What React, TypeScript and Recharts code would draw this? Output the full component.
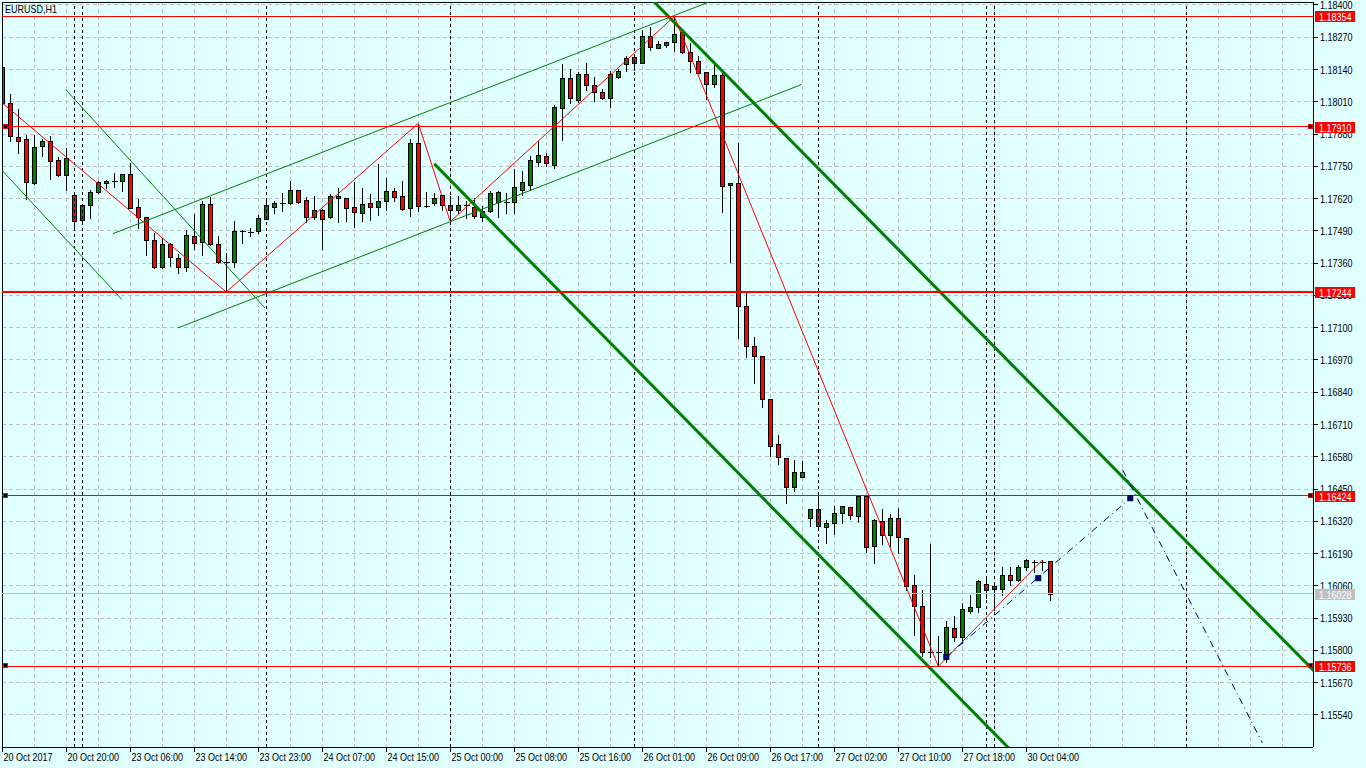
import React from "react";
import { ComposedChart, Bar, XAxis, YAxis, CartesianGrid, ReferenceLine, ReferenceDot } from "recharts";

const FONT = "'Liberation Sans', Arial, sans-serif";
const SQUEEZE = 0.82; // narrow the glyphs like the terminal font
const BG = "#E0FFFF";
const RED = "#FF0000";
const GREEN = "#008000";
const NAVY = "#000080";

// EURUSD H1 candles, 132 bars (index 0 = 20 Oct 2017)
const opens = [
  1.1815, 1.18004, 1.17867, 1.17859, 1.17684, 1.17831, 1.17851, 1.17774, 1.17714, 1.17633,
  1.17535, 1.17593, 1.17645, 1.17682, 1.1769, 1.1769, 1.17719, 1.17585, 1.17547, 1.17452,
  1.17343, 1.17436, 1.1738, 1.17346, 1.17469, 1.17444, 1.17598, 1.17436, 1.17363, 1.17363,
  1.17488, 1.17485, 1.17491, 1.17539, 1.17587, 1.17601, 1.17601, 1.17655, 1.17614, 1.17547,
  1.17573, 1.17545, 1.1763, 1.17621, 1.17585, 1.17561, 1.17601, 1.17585, 1.17609, 1.17649,
  1.17629, 1.17581, 1.17844, 1.17592, 1.17601, 1.17633, 1.17593, 1.17575, 1.17593, 1.17587,
  1.17545, 1.1757, 1.17605, 1.17605, 1.17608, 1.17655, 1.17675, 1.17768, 1.17792, 1.17755,
  1.17984, 1.18105, 1.18017, 1.18122, 1.18076, 1.18048, 1.18027, 1.18109, 1.18161, 1.18189,
  1.18167, 1.18275, 1.18228, 1.18238, 1.1825, 1.1829, 1.18212, 1.18174, 1.18129, 1.1808,
  1.18119, 1.17674, 1.17682, 1.17186, 1.17025, 1.16985, 1.16812, 1.1663, 1.16574, 1.16457,
  1.165, 1.16332, 1.16369, 1.16297, 1.16313, 1.16352, 1.16377, 1.1634, 1.16423, 1.16222,
  1.16323, 1.16264, 1.16332, 1.16252, 1.16062, 1.15979, 1.15795, 1.15794, 1.15774, 1.1589,
  1.15853, 1.1596, 1.15976, 1.16068, 1.16058, 1.16049, 1.16104, 1.16083, 1.16136, 1.16158,
  1.16158, 1.1616,
];
const highs = [
  1.18154, 1.18044, 1.17984, 1.1788, 1.1788, 1.17863, 1.17876, 1.17792, 1.17827, 1.17635,
  1.17594, 1.17658, 1.17695, 1.17699, 1.17726, 1.17722, 1.17769, 1.17621, 1.1755, 1.17487,
  1.17465, 1.17446, 1.17401, 1.17496, 1.17561, 1.17614, 1.1763, 1.17473, 1.17406, 1.17534,
  1.17496, 1.17504, 1.17558, 1.17614, 1.17614, 1.17645, 1.17695, 1.17657, 1.17632, 1.17635,
  1.17581, 1.17641, 1.17668, 1.17628, 1.17691, 1.17666, 1.17641, 1.17762, 1.17706, 1.17668,
  1.17695, 1.17863, 1.17923, 1.17652, 1.17647, 1.17635, 1.17635, 1.17635, 1.17614, 1.17628,
  1.17594, 1.17655, 1.17655, 1.17648, 1.17742, 1.17735, 1.17796, 1.17856, 1.17808, 1.18,
  1.18165, 1.18145, 1.18134, 1.18169, 1.18114, 1.18064, 1.18138, 1.18145, 1.18199, 1.18199,
  1.18302, 1.18315, 1.18259, 1.18252, 1.18354, 1.18307, 1.18252, 1.18199, 1.1813, 1.18165,
  1.18131, 1.17686, 1.17849, 1.17245, 1.17067, 1.16988, 1.16816, 1.16671, 1.1658, 1.1657,
  1.16567, 1.16375, 1.16426, 1.16328, 1.16386, 1.16387, 1.16382, 1.16429, 1.16429, 1.16335,
  1.16373, 1.16355, 1.16379, 1.16254, 1.16108, 1.16048, 1.16234, 1.15862, 1.15923, 1.15943,
  1.15996, 1.16027, 1.16088, 1.16091, 1.16071, 1.1614, 1.1614, 1.16147, 1.16174, 1.16167,
  1.16167, 1.16162,
];
const lows = [
  1.17993, 1.17853, 1.17805, 1.17617, 1.17679, 1.17792, 1.177, 1.17712, 1.17655, 1.17504,
  1.17528, 1.17542, 1.17643, 1.17662, 1.17667, 1.17652, 1.17581, 1.175, 1.17392, 1.17342,
  1.1734, 1.1735, 1.17322, 1.1733, 1.17417, 1.17393, 1.17434, 1.17361, 1.17244, 1.17346,
  1.1744, 1.17471, 1.17483, 1.17537, 1.17563, 1.1757, 1.17599, 1.17602, 1.17527, 1.17537,
  1.17417, 1.17543, 1.17527, 1.1753, 1.17507, 1.17531, 1.17534, 1.17554, 1.17574, 1.17609,
  1.17575, 1.17551, 1.1757, 1.17587, 1.17594, 1.17574, 1.17527, 1.17561, 1.17541, 1.17541,
  1.1753, 1.17568, 1.17545, 1.17561, 1.17561, 1.17635, 1.17655, 1.17751, 1.17751, 1.17743,
  1.17856, 1.18004, 1.1801, 1.18058, 1.18013, 1.1802, 1.1799, 1.18107, 1.18135, 1.18138,
  1.18165, 1.18219, 1.18225, 1.18232, 1.18216, 1.18205, 1.18131, 1.18125, 1.1802, 1.18071,
  1.17567, 1.17366, 1.1706, 1.16983, 1.16876, 1.16782, 1.16583, 1.1655, 1.16395, 1.16442,
  1.16498, 1.16302, 1.16298, 1.16234, 1.16268, 1.16312, 1.16331, 1.16319, 1.16198, 1.16151,
  1.16229, 1.16221, 1.16191, 1.16044, 1.15863, 1.15779, 1.15772, 1.15736, 1.15755, 1.15839,
  1.15829, 1.15952, 1.15954, 1.1601, 1.15963, 1.16023, 1.16064, 1.16081, 1.16124, 1.16117,
  1.16124, 1.16003,
];
const closes = [
  1.18005, 1.17872, 1.17853, 1.17686, 1.17827, 1.17851, 1.17773, 1.17714, 1.17782, 1.17531,
  1.17593, 1.17647, 1.17686, 1.17691, 1.1769, 1.17719, 1.17583, 1.17547, 1.17452, 1.17346,
  1.17436, 1.17384, 1.17346, 1.17473, 1.1744, 1.17598, 1.17436, 1.17363, 1.17363, 1.1749,
  1.17488, 1.17485, 1.17541, 1.17593, 1.17601, 1.17601, 1.17655, 1.17608, 1.17545, 1.17573,
  1.17539, 1.1763, 1.17621, 1.17583, 1.17565, 1.17597, 1.17585, 1.17609, 1.17651, 1.17628,
  1.17577, 1.17844, 1.1759, 1.17589, 1.17621, 1.17593, 1.17574, 1.17593, 1.17593, 1.17549,
  1.17571, 1.17641, 1.17645, 1.17605, 1.17666, 1.17687, 1.17776, 1.17796, 1.17763, 1.17988,
  1.18105, 1.18024, 1.18122, 1.18076, 1.18048, 1.18027, 1.18122, 1.18134, 1.18185, 1.18167,
  1.18275, 1.18232, 1.18243, 1.1825, 1.18283, 1.18212, 1.18174, 1.18128, 1.1808, 1.18119,
  1.17672, 1.17682, 1.17186, 1.17025, 1.16985, 1.16812, 1.16625, 1.16578, 1.16457, 1.16518,
  1.16518, 1.16369, 1.163, 1.16313, 1.16352, 1.16381, 1.16344, 1.16423, 1.16218, 1.16324,
  1.16265, 1.16332, 1.16256, 1.16061, 1.1598, 1.15795, 1.15795, 1.15794, 1.15894, 1.15855,
  1.15966, 1.15974, 1.16079, 1.16045, 1.16046, 1.16103, 1.16083, 1.16136, 1.16163, 1.16158,
  1.16158, 1.16028,
];

// time labels, one every 8 bars
const timeLabels = [
  "20 Oct 2017", "20 Oct 20:00", "23 Oct 06:00", "23 Oct 14:00", "23 Oct 23:00",
  "24 Oct 07:00", "24 Oct 15:00", "25 Oct 00:00", "25 Oct 08:00", "25 Oct 16:00",
  "26 Oct 01:00", "26 Oct 09:00", "26 Oct 17:00", "27 Oct 02:00", "27 Oct 10:00",
  "27 Oct 18:00", "30 Oct 04:00",
];
const priceTicks = [
  1.184, 1.1827, 1.1814, 1.1801, 1.1788, 1.1775, 1.1762, 1.1749, 1.1736, 1.1723, 1.171, 1.1697,
  1.1684, 1.1671, 1.1658, 1.1645, 1.1632, 1.1619, 1.1606, 1.1593, 1.158, 1.1567, 1.1554,
];
const gridTicks = Array.from({ length: 41 }, (_, k) => k * 4);

// drawn objects (bar index, price)
const redLevels = [1.18354, 1.1791, 1.17244, 1.16424, 1.15736];
const markedLevels = [1.1791, 1.16424, 1.15736];
const bidPrice = 1.16028;
const dayLines = [9, 10, 33, 56, 79, 102, 123, 124, 148];
const zigzag = [
  [0, 1.18005], [28, 1.17244], [52, 1.17923], [56, 1.17527], [84, 1.18354], [117, 1.15736], [130, 1.16164],
];
const thinChannels = [
  [[-0.3, 1.17743], [14.93, 1.17214]],
  [[7.96, 1.18058], [32.84, 1.17179]],
  [[13.84, 1.17479], [90, 1.18433]],
  [[21.96, 1.17099], [99.93, 1.1808]],
];
const thickChannels = [
  [[78, 1.18526], [170, 1.1552]],
  [[54, 1.1776], [130, 1.15269]],
];
const projections = [
  [[118, 1.15774], [141, 1.16413]],
  [[140.05, 1.16527], [157.5, 1.15428]],
];
const projectionMarks = [[118, 1.15774], [129.5, 1.16091], [141, 1.16413]];

const candles = opens.map((o, i) => ({
  i,
  open: o,
  high: highs[i],
  low: lows[i],
  close: closes[i],
  range: [lows[i], highs[i]],
}));

const NarrowText = ({ x, y, fill, children }: any) => (
  <text
    transform={`translate(${x} ${y}) scale(${SQUEEZE} 1)`}
    x={0}
    y={0}
    fontSize={11}
    fontFamily={FONT}
    fill={fill}
  >
    {children}
  </text>
);

const Candle = (props: any) => {
  const { x, y, width, height, payload } = props;
  if (!payload || x == null || y == null) return null;
  const cx = Math.round(x + width / 2) + 0.5;
  const top = Math.min(y, y + height);
  const bot = Math.max(y, y + height);
  const span = payload.high - payload.low;
  const toY = (v: number) => (span > 0 ? top + ((payload.high - v) / span) * (bot - top) : top);
  const snap = (v: number) => Math.round(v) + 0.5;
  const yo = snap(toY(payload.open));
  const yc = snap(toY(payload.close));
  const bodyTop = Math.min(yo, yc);
  const bodyBot = Math.max(yo, yc);
  const up = payload.close > payload.open;
  return (
    <g shapeRendering="crispEdges">
      <line x1={cx} x2={cx} y1={snap(top)} y2={snap(bot)} stroke="#000" />
      {bodyBot - bodyTop < 1 ? (
        <line x1={cx - 2.5} x2={cx + 3} y1={yo} y2={yo} stroke="#000" />
      ) : (
        <rect x={cx - 2} y={bodyTop} width={4} height={bodyBot - bodyTop} fill={up ? GREEN : RED} stroke="#000" />
      )}
    </g>
  );
};

// price scale ticks; the level tags come last so they sit on top
const PriceTick = (props: any) => {
  const { x, y, payload } = props;
  const v = payload.value;
  const isLevel = redLevels.includes(v);
  if (isLevel || v === bidPrice) {
    const ty = Math.round(y);
    return (
      <g>
        <rect x={x + 2} y={ty - 5} width={40} height={11} fill={isLevel ? RED : "#C0C0C0"} shapeRendering="crispEdges" />
        <NarrowText x={x + 6} y={ty + 4.5} fill="#FFFFFF">
          {v.toFixed(5)}
        </NarrowText>
      </g>
    );
  }
  return (
    <g>
      <line x1={x} x2={x + 5} y1={y} y2={y} stroke="#000" shapeRendering="crispEdges" />
      <NarrowText x={x + 7} y={y + 4} fill="#000">
        {v.toFixed(5)}
      </NarrowText>
    </g>
  );
};

const TimeTick = (props: any) => {
  const { x, y, payload } = props;
  if (payload.value % 8 !== 0) return null;
  const label = timeLabels[payload.value / 8];
  if (!label) return null;
  const px = Math.round(x) + 0.5;
  return (
    <g>
      <line x1={px} x2={px} y1={y} y2={y + 5} stroke="#000" shapeRendering="crispEdges" />
      <NarrowText x={px + 1} y={y + 14} fill="#000">
        {label}
      </NarrowText>
    </g>
  );
};

// small anchor squares at both ends of a selected horizontal line
const LevelMarks = (props: any) => {
  const { viewBox } = props;
  if (!viewBox) return null;
  const right = viewBox.x + viewBox.width;
  const y = Math.round(viewBox.y);
  return (
    <g shapeRendering="crispEdges">
      <rect x={viewBox.x + 1.5} y={y - 2.5} width={4} height={4} fill="#000" stroke={RED} />
      <rect x={right - 4.5} y={y - 2.5} width={4} height={4} fill="#000" stroke={RED} />
    </g>
  );
};

const seg = (a: number[], b: number[]) => [
  { x: a[0], y: a[1] },
  { x: b[0], y: b[1] },
];

export default function App() {
  return (
    <div style={{ position: "fixed", left: 0, top: 0, width: 1366, height: 768, background: BG }}>
      <ComposedChart width={1366} height={768} data={candles} margin={{ top: 2, right: 0, bottom: 0, left: 2 }}>
        <CartesianGrid
          stroke="#C0C0C0"
          strokeDasharray="4 3"
          shapeRendering="crispEdges"
          horizontalValues={priceTicks}
          verticalValues={gridTicks}
        />
        <XAxis
          type="number"
          dataKey="i"
          domain={[-0.0375, 163.8375]}
          allowDataOverflow
          ticks={gridTicks}
          interval={0}
          tick={<TimeTick />}
          tickLine={false}
          tickSize={0}
          tickMargin={0}
          height={21}
          axisLine={{ stroke: "#000", shapeRendering: "crispEdges" }}
        />
        <YAxis
          orientation="right"
          domain={[1.15411, 1.18412]}
          allowDataOverflow
          ticks={[...priceTicks, bidPrice, ...redLevels]}
          interval={0}
          tick={<PriceTick />}
          tickLine={false}
          tickSize={0}
          tickMargin={0}
          width={53}
          axisLine={{ stroke: "#000", shapeRendering: "crispEdges" }}
        />
        {/* frame */}
        <ReferenceLine x={-0.0375} stroke="#000" ifOverflow="visible" shapeRendering="crispEdges" />
        <ReferenceLine y={1.18412} stroke="#000" ifOverflow="visible" shapeRendering="crispEdges" />

        {dayLines.map((d) => (
          <ReferenceLine key={"d" + d} x={d} stroke="#000" strokeDasharray="3 3" shapeRendering="crispEdges" />
        ))}

        <ReferenceLine y={bidPrice} stroke="#C0C0C0" shapeRendering="crispEdges" />

        <Bar dataKey="range" shape={<Candle />} isAnimationActive={false} />

        {thinChannels.map((s, k) => (
          <ReferenceLine key={"tc" + k} segment={seg(s[0], s[1])} stroke={GREEN} strokeWidth={1} ifOverflow="hidden" />
        ))}
        {thickChannels.map((s, k) => (
          <ReferenceLine key={"tk" + k} segment={seg(s[0], s[1])} stroke={GREEN} strokeWidth={3} ifOverflow="hidden" />
        ))}
        {zigzag.slice(1).map((p, k) => (
          <ReferenceLine key={"z" + k} segment={seg(zigzag[k], p)} stroke={RED} strokeWidth={1} ifOverflow="hidden" />
        ))}
        {projections.map((s, k) => (
          <ReferenceLine
            key={"p" + k}
            segment={seg(s[0], s[1])}
            stroke={NAVY}
            strokeWidth={1}
            strokeDasharray="7 4 1 4"
            ifOverflow="hidden"
          />
        ))}
        {projectionMarks.map((m, k) => (
          <ReferenceDot
            key={"m" + k}
            x={m[0]}
            y={m[1]}
            shape={(p: any) => (
              <rect x={p.cx - 2.5} y={p.cy - 2.5} width={5} height={5} fill={NAVY} stroke="#000040" />
            )}
          />
        ))}

        {redLevels.map((p) => (
          <ReferenceLine
            key={"l" + p}
            y={p}
            stroke={RED}
            strokeWidth={p === 1.17244 ? 2 : 1}
            shapeRendering="crispEdges"
            label={markedLevels.includes(p) ? <LevelMarks /> : undefined}
          />
        ))}
      </ComposedChart>
      <div
        style={{
          position: "absolute",
          left: 5,
          top: 3,
          fontSize: 11,
          lineHeight: "13px",
          fontFamily: FONT,
          color: "#000",
          transform: `scaleX(${SQUEEZE})`,
          transformOrigin: "0 0",
        }}
      >
        EURUSD,H1
      </div>
    </div>
  );
}
